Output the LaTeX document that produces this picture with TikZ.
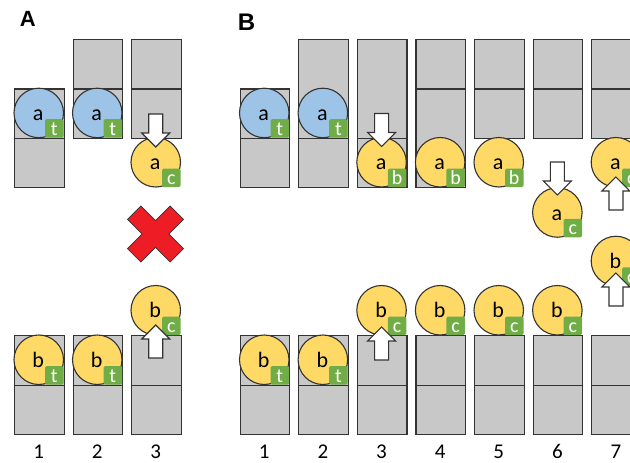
\documentclass[tikz,border=0pt]{standalone}
\usepackage{fontspec}
\setmainfont{Carlito}
\newfontfamily\headfont{Liberation Sans}
\definecolor{cellgray}{HTML}{C8C8C8}
\definecolor{linec}{HTML}{333333}
\definecolor{tokblue}{HTML}{9DC3E6}
\definecolor{tokyellow}{HTML}{FFD966}
\definecolor{taggreen}{HTML}{70AD47}
\definecolor{xred}{HTML}{EE1C25}
\tikzset{
  cell/.style={draw=linec, fill=cellgray, line width=1.2pt, anchor=north west, minimum width=49.5pt, inner sep=0pt},
  tokc/.style={circle, draw=linec, line width=1.1pt, minimum size=49.5pt, inner sep=0pt},
  toklabel/.style={anchor=base, font=\fontsize{22}{22}\selectfont, text=black, inner sep=0pt},
  tagbox/.style={fill=taggreen, rounded corners=1.5pt, minimum size=18.5pt, inner sep=0pt},
  tagtext/.style={anchor=base, font=\fontsize{20}{20}\selectfont, text=white, inner sep=0pt},
  numlabel/.style={anchor=base, font=\fontsize{21}{21}\selectfont, inner sep=0pt},
  headlabel/.style={font=\headfont\bfseries\fontsize{22}{22}\selectfont, inner sep=0pt},
  arrowshape/.style={draw=linec, fill=white, line width=1.1pt, line join=miter},
  xcross/.style={draw=linec, fill=xred, line width=0.8pt, line join=miter},
  downarrow/.pic={\path[arrowshape] (-7,-33) -- (7,-33) -- (7,-14) -- (14,-14) -- (0,0) -- (-14,-14) -- (-7,-14) -- cycle;},
  uparrow/.pic={\path[arrowshape] (-7,33) -- (7,33) -- (7,14) -- (14,14) -- (0,0) -- (-14,14) -- (-7,14) -- cycle;},
}
\newcommand\tok[6]{%
  \node[tokc, fill=#4] (#1) at (#2,#3) {};
  \node[tagbox] (#1tag) at (#2+15.5,#3+15.5) {};
  \node[toklabel] (#1lbl) at (#2-0.5,#3+7.5) {#5};
  \node[tagtext] (#1tagl) at (#2+15.5,#3+22.3) {#6};
}
\begin{document}
\begin{tikzpicture}[x=1pt,y=-1pt]
\useasboundingbox (0,0) rectangle (630,463);
\clip (0,0) rectangle (630,463);
% headings
\node[headlabel] (hA) at (27.8,19.3) {A};
\node[headlabel, font=\headfont\bfseries\fontsize{24}{24}\selectfont] (hB) at (246.6,22) {B};
% ---------- Panel A columns ----------
\node[cell, minimum height=49.3pt] (A1u) at (14,88.3) {};
\node[cell, minimum height=49.3pt] (A1l) at (14,137.6) {};
\node[cell, minimum height=49.3pt] (A2u) at (72.5,39) {};
\node[cell, minimum height=49.3pt] (A2l) at (72.5,88.3) {};
\node[cell, minimum height=49.3pt] (A3u) at (131,39) {};
\node[cell, minimum height=49.3pt] (A3l) at (131,88.3) {};
\foreach \cx [count=\i] in {14,72.5,131}{
  \node[cell, minimum height=49.5pt] (Ab\i u) at (\cx,335) {};
  \node[cell, minimum height=49.5pt] (Ab\i l) at (\cx,384.5) {};
}
% ---------- Panel B columns ----------
\node[cell, minimum height=49.3pt] (B1u) at (239.5,88.3) {};
\node[cell, minimum height=49.3pt] (B1l) at (239.5,137.6) {};
\node[cell, minimum height=98.6pt] (B2u) at (298.1,39) {};
\node[cell, minimum height=49.3pt] (B2l) at (298.1,137.6) {};
\node[cell, minimum height=98.6pt] (B3u) at (356.8,39) {};
\node[cell, minimum height=49.3pt] (B3l) at (356.8,137.6) {};
\node[cell, minimum height=49.3pt] (B4u) at (415.4,39) {};
\node[cell, minimum height=98.6pt] (B4l) at (415.4,88.3) {};
\foreach \cx [count=\i from 5] in {474,532.6,591.2}{
  \node[cell, minimum height=49.3pt] (B\i u) at (\cx,39) {};
  \node[cell, minimum height=49.3pt] (B\i l) at (\cx,88.3) {};
}
\foreach \cx [count=\i] in {239.5,298.1,356.8,415.4,474,532.6,591.2}{
  \node[cell, minimum height=49.5pt] (Bb\i u) at (\cx,335) {};
  \node[cell, minimum height=49.5pt] (Bb\i l) at (\cx,384.5) {};
}
% ---------- Panel A tokens ----------
\tok{tA1}{38.75}{112.95}{tokblue}{a}{t}
\tok{tA2}{97.25}{112.95}{tokblue}{a}{t}
\tok{tA3}{155.75}{162.25}{tokyellow}{a}{c}
\tok{tAb1}{38.75}{359.75}{tokyellow}{b}{t}
\tok{tAb2}{97.25}{359.75}{tokyellow}{b}{t}
\tok{tAb3}{155.75}{310.25}{tokyellow}{b}{c}
\pic at (155.75,147) {downarrow};
\pic at (155.75,325) {uparrow};
\path[xcross, shift={(155.5,234)}] (-14.6,-28) -- (0,-13.4) -- (14.6,-28) -- (28,-14.6) -- (13.4,0) -- (28,14.6) -- (14.6,28) -- (0,13.4) -- (-14.6,28) -- (-28,14.6) -- (-13.4,0) -- (-28,-14.6) -- cycle;
% ---------- Panel B tokens ----------
\tok{tB1}{264.25}{112.95}{tokblue}{a}{t}
\tok{tB2}{322.85}{112.95}{tokblue}{a}{t}
\tok{tB3}{381.55}{162.25}{tokyellow}{a}{b}
\tok{tB4}{440.15}{162.25}{tokyellow}{a}{b}
\tok{tB5}{498.75}{162.25}{tokyellow}{a}{b}
\tok{tB6}{557.35}{212.5}{tokyellow}{a}{c}
\tok{tB7}{615.95}{162.25}{tokyellow}{a}{c}
\tok{tBb1}{264.25}{359.75}{tokyellow}{b}{t}
\tok{tBb2}{322.85}{359.75}{tokyellow}{b}{t}
\tok{tBb3}{381.55}{310.25}{tokyellow}{b}{c}
\tok{tBb4}{440.15}{310.25}{tokyellow}{b}{c}
\tok{tBb5}{498.75}{310.25}{tokyellow}{b}{c}
\tok{tBb6}{557.35}{310.25}{tokyellow}{b}{c}
\tok{tBb7}{615.95}{261}{tokyellow}{b}{c}
\pic at (381.55,146.5) {downarrow};
\pic at (557.35,195) {downarrow};
\pic at (615.95,177) {uparrow};
\pic at (381.55,327) {uparrow};
\pic at (615.95,273) {uparrow};
% ---------- numbers ----------
\foreach \cx [count=\i] in {38.75,97.25,155.75}{
  \node[numlabel] (nA\i) at (\cx,458.5) {\i};
}
\foreach \cx [count=\i] in {264.25,322.85,381.55,440.15,498.75,557.35,615.95}{
  \node[numlabel] (nB\i) at (\cx,458.5) {\i};
}
\end{tikzpicture}
\end{document}
